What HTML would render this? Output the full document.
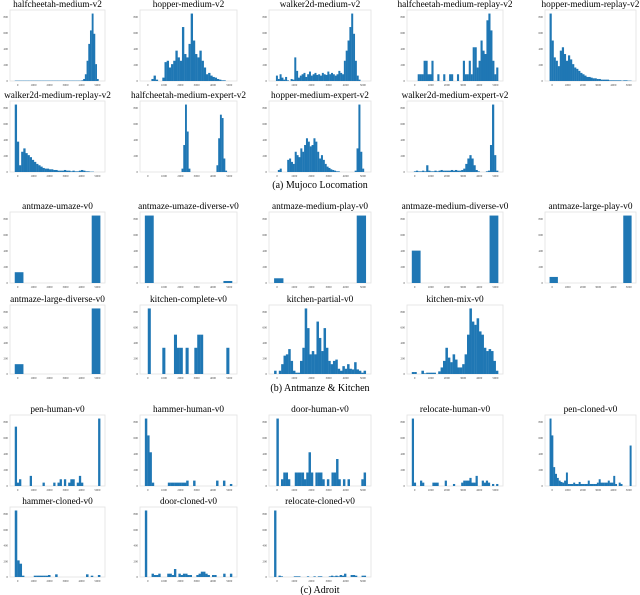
<!DOCTYPE html>
<html><head><meta charset="utf-8">
<style>
html,body{margin:0;padding:0;background:#fff;}
svg{display:block;}
text{font-family:"Liberation Serif",serif;}
</style></head>
<body>
<svg id="fig" width="640" height="595" viewBox="0 0 640 595" xmlns="http://www.w3.org/2000/svg">
<text x="320" y="188" text-anchor="middle" font-size="10">(a) Mujoco Locomation</text>
<text x="320" y="391" text-anchor="middle" font-size="10">(b) Antmanze &amp; Kitchen</text>
<text x="320" y="593" text-anchor="middle" font-size="10">(c) Adroit</text>
</svg>
<script>
// ---- data (relative bin counts) ----
const titles = ["halfcheetah-medium-v2","hopper-medium-v2","walker2d-medium-v2","halfcheetah-medium-replay-v2","hopper-medium-replay-v2",
"walker2d-medium-replay-v2","halfcheetah-medium-expert-v2","hopper-medium-expert-v2","walker2d-medium-expert-v2",
"antmaze-umaze-v0","antmaze-umaze-diverse-v0","antmaze-medium-play-v0","antmaze-medium-diverse-v0","antmaze-large-play-v0",
"antmaze-large-diverse-v0","kitchen-complete-v0","kitchen-partial-v0","kitchen-mix-v0",
"pen-human-v0","hammer-human-v0","door-human-v0","relocate-human-v0","pen-cloned-v0",
"hammer-cloned-v0","door-cloned-v0","relocate-cloned-v0"];
const hcMed = [0.5,0.5,0.5,0.5,0.5,0.5,0.5,0.5,0.5,0.5,0.5,0.5,0.5,0.5,0.5,0.5,0.5,0.5,0.5,0.5,0.5,0.5,0.5,0.5,0.5,0.5,0.5,0.5,0.5,0.5,0.5,0.5,0.5,0.5,0.5,0.5,0.5,0.5,0.5,1,3,10,30,55,75,100,70,25,3,0];
const hopMed = [0,0,0,3,8,2,0,0,5,28,30,20,25,30,45,35,30,80,40,35,55,100,60,40,35,45,30,20,10,12,8,6,5,3,2,1,1,0,0,0];
const w2dMed = [0,8,3,10,5,2,6,1,0,3,2,35,15,5,8,10,12,6,10,14,8,10,12,9,10,8,12,10,9,14,10,12,10,8,10,15,12,10,30,45,60,80,100,70,30,8,2,0,0,0];
const hcReplay = [0,0,0,10,10,10,30,30,10,10,30,0,0,10,0,0,10,0,0,10,10,0,0,10,0,0,30,10,10,30,10,50,50,20,30,60,45,40,90,100,75,30,10,20];
const hopReplay = [100,60,35,30,22,45,50,40,30,38,32,25,20,18,15,12,10,8,6,6,5,4,4,3,3,2,2,2,2,1,1,1,1,1,1,0.5,1,1,0.5,0.5];
const w2dReplay = [100,45,10,30,35,28,25,22,18,15,12,10,8,6,5,5,4,4,3,3,2,2,2,3,2,2,1,2,1,1,2,3,2,1,1,0.5,0.5,0,0,0];
const hcME = [0,0,0,0,0,0,0,0,0,0,0,0,0,0,0,0,0,0,0,0,0,5,40,100,60,5,0,0,0,0,0,0,0,0,0,0,0,0,0,0,0,10,50,85,80,20,2,0,0,0];
const hopME = [0,0,3,5,0,0,0,18,20,15,12,30,25,22,35,30,40,50,45,38,40,50,45,30,20,25,18,12,8,6,4,3,2,1,1,0,0,0,0,0,0,0,0,2,35,100,30,5,0];
const w2dME = [0,1,2,1,1,2,1,10,2,1,1,2,1,2,3,2,2,2,2,3,2,3,2,2,3,5,12,20,25,20,10,3,1,0,0,0,1,2,40,100,25,2];
const amUmaze = [16,0,0,0,0,0,0,0,0,100];
const amUmazeDiv = [100,0,0,0,0,0,0,0,0,3];
const amMedPlay = [7,0,0,0,0,0,0,0,0,100];
const amMedDiv = [48,0,0,0,0,0,0,0,0,100];
const amLargePlay = [9,0,0,0,0,0,0,0,0,100];
const amLargeDiv = [15,0,0,0,0,0,0,0,0,100];
const kComplete = [0,100,0,0,0,0,40,0,0,0,60,40,40,0,40,0,0,40,60,60,0,0,0,0,0,0,0,0,40,0];
const kPartial = [5,0,5,15,28,30,38,20,5,2,2,20,40,100,70,30,35,30,80,55,35,70,40,20,15,20,22,8,5,12,8,15,8,7,18,7,5,2,5];
const kMix = [3,3,0,0,5,1,2,2,2,2,0,4,10,20,40,25,18,30,22,10,10,15,30,60,100,80,75,85,65,60,40,35,38,35,20,5];
const penHuman = [88,5,10,0,0,0,0,15,0,0,0,0,0,5,0,0,0,0,5,0,5,10,0,10,0,5,10,10,0,5,15,5,0,0,0,0,0,0,0,100];
const hamHuman = [100,75,50,5,0,0,0,0,0,0,5,5,5,5,5,5,5,5,8,0,0,8,0,0,0,0,0,0,0,0,0,8,0,0,8,0,0,3];
const doorHuman = [0,100,0,10,20,20,10,0,0,20,20,20,20,10,20,50,20,0,20,20,20,10,0,10,0,20,20,40,10,0,10,0,10,0,0,0,0,0,10,20];
const relHuman = [100,5,0,0,8,5,0,0,0,0,5,5,5,0,0,0,8,0,0,0,3,0,0,0,5,8,8,8,12,5,5,15,0,0,8,5,8,5,0,3,0,3];
const penCloned = [100,75,28,18,12,8,6,5,8,20,3,3,3,5,3,3,6,3,3,3,3,8,3,3,3,3,5,10,5,5,5,5,8,5,5,15,3,0,5,3,0,0,0,0,60];
const hamCloned = [100,25,20,2,0,0,0,0,2,2,2,2,2,2,3,0,0,4,0,0,0,0,0,0,0,0,0,0,0,0,4,0,2,0,0,3];
const doorCloned = [100,0,0,5,3,3,5,0,0,0,5,5,3,12,0,5,3,5,5,3,3,0,0,3,5,8,8,5,3,0,3,3,0,0,0,5,0,0,5];
const relCloned = [100,0,2,1,0,0,0,0,0,1,1,1,0,0,0,1,0,0,1,0,1,1,0,0,0,1,2,1,2,1,3,2,5,0,0,3,3,2,0,0,2,2];
const series = [hcMed,hopMed,w2dMed,hcReplay,hopReplay,w2dReplay,hcME,hopME,w2dME,
 amUmaze,amUmazeDiv,amMedPlay,amMedDiv,amLargePlay,amLargeDiv,kComplete,kPartial,kMix,
 penHuman,hamHuman,doorHuman,relHuman,penCloned,hamCloned,doorCloned,relCloned];
const yTickLabels = ["0","200","400","600","800"];
const xTickLabels = ["0","1000","2000","3000","4000","5000"];

// ---- layout ----
const colX = [[10,105],[140,237],[269,371],[407,503],[545,636]];
const rowY = [[10,81],[101,172],[212,283],[305,374],[415,486],[507,577]];
const rowCols = [5,4,5,4,5,3];

const svg = document.getElementById('fig');
const NS = 'http://www.w3.org/2000/svg';
function mk(tag, attrs){const e=document.createElementNS(NS,tag);for(const k in attrs)e.setAttribute(k,attrs[k]);return e;}

let idx = 0;
rowCols.forEach((n, r) => {
  for (let c = 0; c < n; c++) {
    const data = series[idx], title = titles[idx];
    const [x0,x1] = colX[c], [y0,y1] = rowY[r];
    const g = mk('g',{});
    
    
    svg.appendChild(g);
    const frame = mk('rect',{x:x0,y:y0,width:x1-x0,height:y1-y0,fill:'#fff',stroke:'#e2e2e2','stroke-width':0.8});
    
    
    g.appendChild(frame);
    const t = mk('text',{x:(x0+x1)/2,y:y0-3,'text-anchor':'middle','font-size':9.3});
    
    
    t.textContent = title;
    g.appendChild(t);
    const maxV = Math.max(...data);
    const nb = data.length;
    const w = x1-x0, h = y1-y0;
    const xs = i => x0 + w*0.05 + (w*0.9)*i/nb;
    const ys = v => y1 - (h*0.95)*v/maxV;
    const bw = (w*0.9)/nb;
    data.forEach((v,i) => {
      if (v <= 0) return;
      const b = mk('rect',{x:xs(i),y:ys(v),width:bw+0.15,height:y1-ys(v),fill:'#1f77b4'});
      
      
      g.appendChild(b);
    });
    yTickLabels.forEach((lab,k) => {
      const yy = y1 - (h*0.9)*k/(yTickLabels.length-1);
      const tl = mk('text',{x:x0-2,y:yy+1,'text-anchor':'end','font-size':3,fill:'#444','font-family':'Liberation Sans, sans-serif'});
      
      
      tl.textContent = lab;
      g.appendChild(tl);
    });
    xTickLabels.forEach((lab,k) => {
      const xx = x0 + w*0.08 + (w*0.84)*k/(xTickLabels.length-1);
      const tl = mk('text',{x:xx,y:y1+5,'text-anchor':'middle','font-size':3,fill:'#444','font-family':'Liberation Sans, sans-serif'});
      
      
      tl.textContent = lab;
      g.appendChild(tl);
    });
    idx++;
  }
});
</script>
</body></html>
